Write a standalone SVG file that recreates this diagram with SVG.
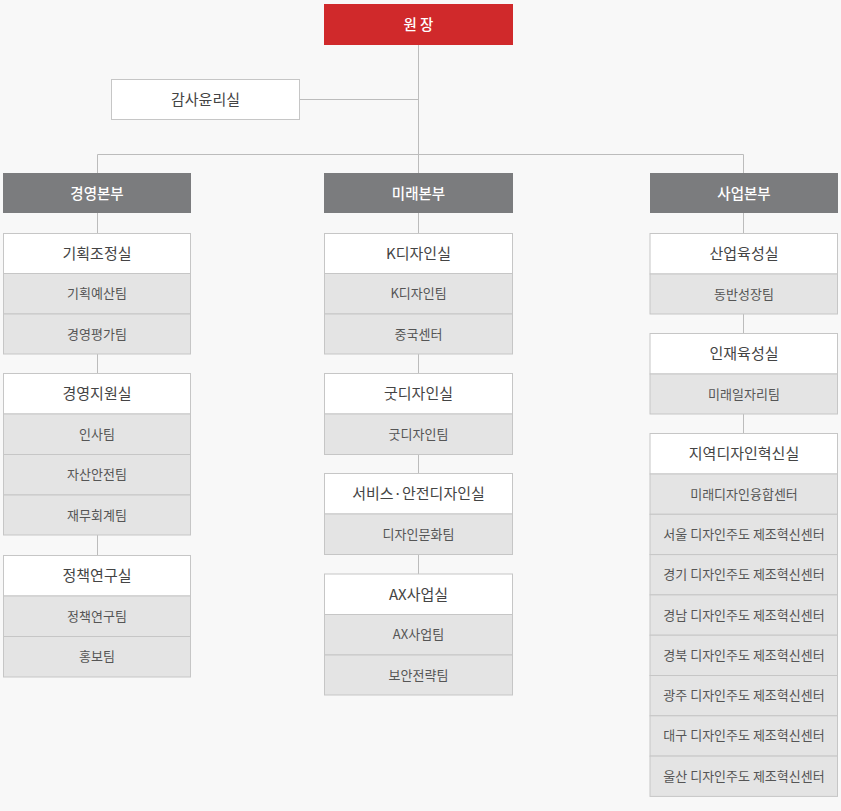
<svg xmlns="http://www.w3.org/2000/svg" width="841" height="811" viewBox="0 0 841 811">
<style>
.bg{fill:#f8f8f8}
.top{fill:#d0292b}
.hq{fill:#7b7c7e}
.hd{fill:#ffffff;stroke:#c6c6c6;stroke-width:1}
.rw{fill:#e4e4e4;stroke:#c6c6c6;stroke-width:1}
.ln{stroke:#bcbcbc;stroke-width:1;fill:none}
text{font-family:"Noto Sans CJK KR","Noto Sans",sans-serif;text-anchor:middle;dominant-baseline:central;transform:translateY(-1px)}
.tw{fill:#ffffff;font-size:14.5px;font-weight:500}
.th{fill:#444444;font-size:15px}
.tr{fill:#555555;font-size:13px}
</style>
<rect class="bg" x="0" y="0" width="841" height="811"/>
<g id="connectors">
<path class="ln" d="M418.5 45V173M300 99.5H418.5M97.5 154.5H743.5M97.5 154.5V173M743.5 154.5V173"/>
<path class="ln" d="M97.5 213V233M97.5 354V373.5M97.5 535V555"/>
<path class="ln" d="M418.5 213V233M418.5 354V373.5M418.5 454.5V473.5M418.5 554.5V574"/>
<path class="ln" d="M743.5 213V233.5M743.5 314V333.5M743.5 414V433.5"/>
</g>
<g id="n-director"><rect class="top" x="324" y="4" width="189" height="41"/><text class="tw" x="418.5" y="24.5">원 장</text></g>
<g id="n-audit"><rect class="hd" x="111.5" y="79.5" width="188" height="40"/><text class="th" x="205.5" y="99.5">감사윤리실</text></g>
<g id="n-hq1"><rect class="hq" x="3" y="173" width="188" height="40"/><text class="tw" x="97" y="193">경영본부</text></g>
<g id="n-hq2"><rect class="hq" x="324" y="173" width="189" height="40"/><text class="tw" x="418.5" y="193">미래본부</text></g>
<g id="n-hq3"><rect class="hq" x="650" y="173" width="188" height="40"/><text class="tw" x="744" y="193">사업본부</text></g>

<g id="n-l1">
<rect class="hd" x="3.5" y="233.5" width="187" height="40"/><text class="th" x="97" y="253.5">기획조정실</text>
<rect class="rw" x="3.5" y="273.5" width="187" height="40.5"/><text class="tr" x="97" y="293.75">기획예산팀</text>
<rect class="rw" x="3.5" y="314" width="187" height="40"/><text class="tr" x="97" y="334">경영평가팀</text>
</g>
<g id="n-l2">
<rect class="hd" x="3.5" y="373.5" width="187" height="40.5"/><text class="th" x="97" y="393.75">경영지원실</text>
<rect class="rw" x="3.5" y="414" width="187" height="40.5"/><text class="tr" x="97" y="434.25">인사팀</text>
<rect class="rw" x="3.5" y="454.5" width="187" height="40.5"/><text class="tr" x="97" y="474.75">자산안전팀</text>
<rect class="rw" x="3.5" y="495" width="187" height="40"/><text class="tr" x="97" y="515">재무회계팀</text>
</g>
<g id="n-l3">
<rect class="hd" x="3.5" y="555.5" width="187" height="40.5"/><text class="th" x="97" y="575.75">정책연구실</text>
<rect class="rw" x="3.5" y="596" width="187" height="40.5"/><text class="tr" x="97" y="616.25">정책연구팀</text>
<rect class="rw" x="3.5" y="636.5" width="187" height="40.5"/><text class="tr" x="97" y="656.75">홍보팀</text>
</g>

<g id="n-m1">
<rect class="hd" x="324.5" y="233.5" width="188" height="40"/><text class="th" x="418.5" y="253.5">K디자인실</text>
<rect class="rw" x="324.5" y="273.5" width="188" height="40.5"/><text class="tr" x="418.5" y="293.75">K디자인팀</text>
<rect class="rw" x="324.5" y="314" width="188" height="40"/><text class="tr" x="418.5" y="334">중국센터</text>
</g>
<g id="n-m2">
<rect class="hd" x="324.5" y="373.5" width="188" height="40.5"/><text class="th" x="418.5" y="393.75">굿디자인실</text>
<rect class="rw" x="324.5" y="414" width="188" height="40.5"/><text class="tr" x="418.5" y="434.25">굿디자인팀</text>
</g>
<g id="n-m3">
<rect class="hd" x="324.5" y="473.5" width="188" height="40.5"/><text class="th" x="418.5" y="493.75">서비스·안전디자인실</text>
<rect class="rw" x="324.5" y="514" width="188" height="40.5"/><text class="tr" x="418.5" y="534.25">디자인문화팀</text>
</g>
<g id="n-m4">
<rect class="hd" x="324.5" y="574" width="188" height="40.5"/><text class="th" x="418.5" y="594.25">AX사업실</text>
<rect class="rw" x="324.5" y="614.5" width="188" height="40.5"/><text class="tr" x="418.5" y="634.75">AX사업팀</text>
<rect class="rw" x="324.5" y="655" width="188" height="40"/><text class="tr" x="418.5" y="675">보안전략팀</text>
</g>

<g id="n-r1">
<rect class="hd" x="650" y="233.5" width="187.5" height="40.5"/><text class="th" x="744" y="253.75">산업육성실</text>
<rect class="rw" x="650" y="274" width="187.5" height="40"/><text class="tr" x="744" y="294">동반성장팀</text>
</g>
<g id="n-r2">
<rect class="hd" x="650" y="333.5" width="187.5" height="40.5"/><text class="th" x="744" y="353.75">인재육성실</text>
<rect class="rw" x="650" y="374" width="187.5" height="40"/><text class="tr" x="744" y="394">미래일자리팀</text>
</g>
<g id="n-r3">
<rect class="hd" x="650" y="433.5" width="187.5" height="40.5"/><text class="th" x="744" y="453.75">지역디자인혁신실</text>
<rect class="rw" x="650" y="474" width="187.5" height="40.3"/><text class="tr" x="744" y="494.15">미래디자인융합센터</text>
<rect class="rw" x="650" y="514.3" width="187.5" height="40.3"/><text class="tr" x="744" y="534.45">서울 디자인주도 제조혁신센터</text>
<rect class="rw" x="650" y="554.6" width="187.5" height="40.3"/><text class="tr" x="744" y="574.75">경기 디자인주도 제조혁신센터</text>
<rect class="rw" x="650" y="594.9" width="187.5" height="40.3"/><text class="tr" x="744" y="615.05">경남 디자인주도 제조혁신센터</text>
<rect class="rw" x="650" y="635.2" width="187.5" height="40.3"/><text class="tr" x="744" y="655.35">경북 디자인주도 제조혁신센터</text>
<rect class="rw" x="650" y="675.5" width="187.5" height="40.3"/><text class="tr" x="744" y="695.65">광주 디자인주도 제조혁신센터</text>
<rect class="rw" x="650" y="715.8" width="187.5" height="40.3"/><text class="tr" x="744" y="735.95">대구 디자인주도 제조혁신센터</text>
<rect class="rw" x="650" y="756.1" width="187.5" height="40.3"/><text class="tr" x="744" y="776.25">울산 디자인주도 제조혁신센터</text>
</g>
</svg>
